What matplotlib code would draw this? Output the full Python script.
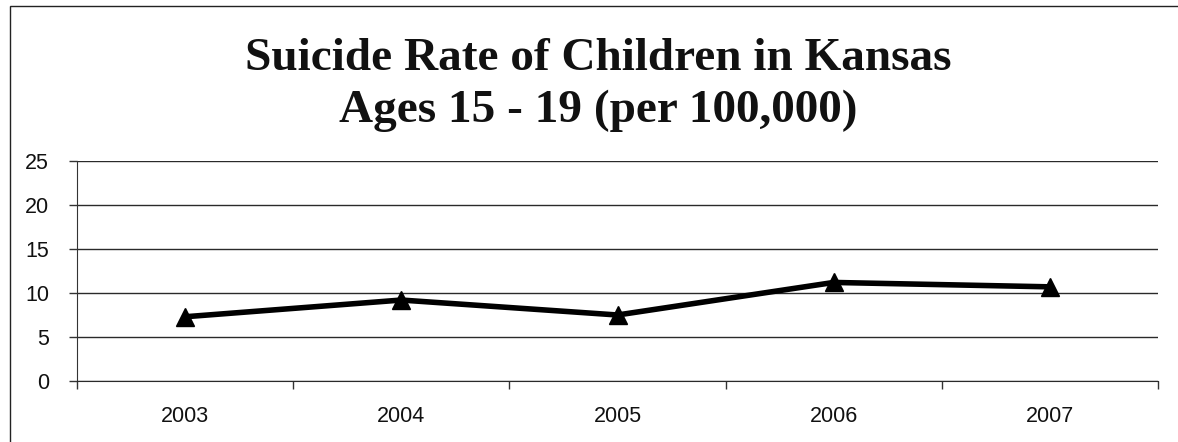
import matplotlib
matplotlib.use('Agg')
import matplotlib.pyplot as plt
from matplotlib.patches import Rectangle
import numpy as np

years = ['2003', '2004', '2005', '2006', '2007']
rates = [7.3, 9.2, 7.5, 11.2, 10.7]
yticks = [0, 5, 10, 15, 20, 25]

W, H = 1178, 442
fig = plt.figure(figsize=(W / 100, H / 100), dpi=100)
ax = fig.add_axes([77 / W, (H - 381) / H, (1158 - 77) / W, 220 / H])

# outer chart frame
fig.patches.append(Rectangle((10 / W, -0.1), 1.2, 1.1 - 6 / H, transform=fig.transFigure,
                             fill=False, edgecolor='#222222', linewidth=1.0))

x = np.arange(len(years))
ax.plot(x, rates, color='black', linewidth=4, marker='^', markersize=13,
        markerfacecolor='black', markeredgecolor='black', zorder=3)

ax.set_xlim(-0.5, len(years) - 0.5)
ax.set_ylim(0, 25)
ax.set_yticks(yticks)
ax.set_yticklabels([str(v) for v in yticks], fontsize=15.5, family='Liberation Sans',
                   color='#111111')
ax.yaxis.grid(True, color='#2a2a2a', linewidth=1.0)
ax.set_axisbelow(True)

# category labels centred, tick marks on the category boundaries
ax.set_xticks(x)
ax.set_xticklabels(years, fontsize=15.5, family='Liberation Sans', color='#111111')
ax.tick_params(axis='x', length=0, pad=18)
ax.set_xticks(np.arange(-0.5, len(years)), minor=True)
ax.tick_params(axis='x', which='minor', length=6, width=1, color='#333333', direction='out')
ax.tick_params(axis='y', length=6, width=1, color='#333333', pad=14)

for s in ['top', 'right']:
    ax.spines[s].set_visible(False)
ax.spines['left'].set_color('#333333')
ax.spines['bottom'].set_color('#2a2a2a')

fig.text(598 / W, (H - 70) / H, 'Suicide Rate of Children in Kansas', ha='center', va='baseline',
         fontsize=34, fontweight='bold', family='Liberation Serif', color='#111111')
fig.text(598 / W, (H - 122) / H, 'Ages 15 - 19 (per 100,000)', ha='center', va='baseline',
         fontsize=34, fontweight='bold', family='Liberation Serif', color='#111111')

fig.savefig('out.png', dpi=100)
